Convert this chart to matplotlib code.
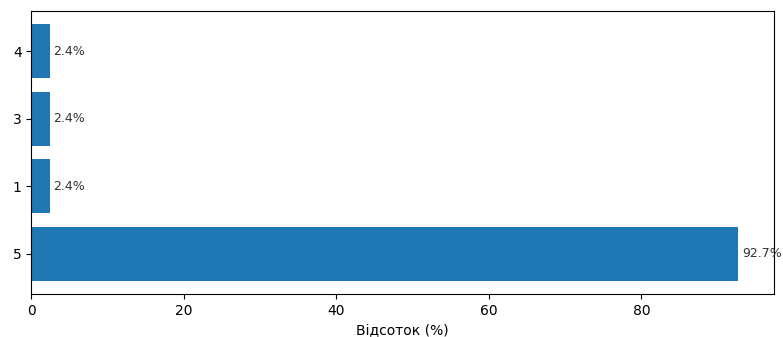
import matplotlib
matplotlib.use('Agg')
import matplotlib.pyplot as plt

# Categories (bottom to top) and their percentages
categories = ['5', '1', '3', '4']
percents = [92.7, 2.4, 2.4, 2.4]

fig = plt.figure(figsize=(7.83, 3.37), dpi=100)
ax = fig.add_axes([0.040, 0.128, 0.948, 0.839])

bars = ax.barh(categories, percents, color='#1f77b4')

# Label each bar with its percentage
for bar, val in zip(bars, percents):
    ax.text(bar.get_width() + 0.5, bar.get_y() + bar.get_height() / 2,
            f'{val}%', va='center', ha='left', fontsize=9, color='#333333')

ax.set_xlabel('Відсоток (%)')

plt.savefig('out.png', dpi=100)
